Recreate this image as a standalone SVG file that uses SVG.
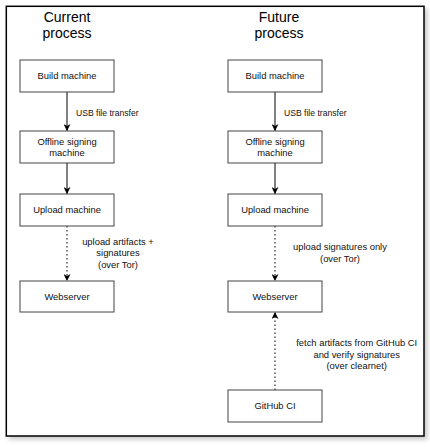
<svg xmlns="http://www.w3.org/2000/svg" width="430" height="447" viewBox="0 0 430 447">
<style>
.node rect{fill:#fff;stroke:#444;stroke-width:1}
.nl{font-family:"Liberation Sans",Arial,sans-serif;font-size:9.4px;fill:#111;text-anchor:middle}
.el{font-family:"Liberation Sans",Arial,sans-serif;font-size:9.4px;fill:#111;text-anchor:middle}
.title{font-family:"Liberation Sans",Arial,sans-serif;font-size:14px;fill:#000;text-anchor:middle}
.solid{stroke:#000;stroke-width:1;fill:none}
.dot{stroke:#000;stroke-width:1;fill:none;stroke-dasharray:1.5 2.5}
</style>
<defs>
<filter id="sh" x="-5%" y="-5%" width="115%" height="115%">
<feGaussianBlur in="SourceAlpha" stdDeviation="2"/>
<feOffset dx="3" dy="3" result="b"/>
<feComponentTransfer><feFuncA type="linear" slope="0.2"/></feComponentTransfer>
<feMerge><feMergeNode/><feMergeNode in="SourceGraphic"/></feMerge>
</filter>
<marker id="arr" viewBox="0 0 10 10" refX="10" refY="5" markerWidth="7" markerHeight="7" markerUnits="userSpaceOnUse" orient="auto">
<path d="M0,0 L10,5 L0,10 L3,5 Z" fill="#000"/>
</marker>
</defs>
<rect id="frame" x="6.3" y="6.3" width="417.7" height="429.7" fill="#fff" stroke="#000" stroke-width="1.5" filter="url(#sh)"/>
<g id="titles">
<text class="title" x="67" y="22">Current</text>
<text class="title" x="67" y="38">process</text>
<text class="title" x="279" y="22">Future</text>
<text class="title" x="279" y="38">process</text>
</g>
<g id="connectors">
<line class="solid" x1="67" y1="92" x2="67" y2="131" marker-end="url(#arr)"/>
<line class="solid" x1="67" y1="163" x2="67" y2="194" marker-end="url(#arr)"/>
<line class="dot" x1="67" y1="226" x2="67" y2="281" marker-end="url(#arr)"/>
<line class="solid" x1="275" y1="92" x2="275" y2="131" marker-end="url(#arr)"/>
<line class="solid" x1="275" y1="163" x2="275" y2="194" marker-end="url(#arr)"/>
<line class="dot" x1="275" y1="226" x2="275" y2="281" marker-end="url(#arr)"/>
<line class="dot" x1="275" y1="390" x2="275" y2="312" marker-end="url(#arr)"/>
<text class="el" x="76" y="116" style="text-anchor:start;font-size:8.6px">USB file transfer</text>
<text class="el" x="284" y="116" style="text-anchor:start;font-size:8.6px">USB file transfer</text>
<text class="el" x="118" y="245">upload artifacts +</text>
<text class="el" x="118" y="256.3">signatures</text>
<text class="el" x="118" y="267.6">(over Tor)</text>
<text class="el" x="340" y="250.3">upload signatures only</text>
<text class="el" x="340" y="261.6">(over Tor)</text>
<text class="el" x="356.7" y="346.3">fetch artifacts from GitHub CI</text>
<text class="el" x="356.7" y="357.6">and verify signatures</text>
<text class="el" x="356.7" y="368.9">(over clearnet)</text>
</g>
<g id="build-current" class="node"><rect x="20" y="60" width="94" height="32"/><text class="nl" x="67" y="79">Build machine</text></g>
<g id="offline-current" class="node"><rect x="20" y="131" width="94" height="32"/><text class="nl" x="67" y="145">Offline signing</text><text class="nl" x="67" y="156.3">machine</text></g>
<g id="upload-current" class="node"><rect x="20" y="194" width="94" height="32"/><text class="nl" x="67" y="213">Upload machine</text></g>
<g id="web-current" class="node"><rect x="20" y="281" width="94" height="31"/><text class="nl" x="67" y="299.5">Webserver</text></g>
<g id="build-future" class="node"><rect x="228" y="60" width="94" height="32"/><text class="nl" x="275" y="79">Build machine</text></g>
<g id="offline-future" class="node"><rect x="228" y="131" width="94" height="32"/><text class="nl" x="275" y="145">Offline signing</text><text class="nl" x="275" y="156.3">machine</text></g>
<g id="upload-future" class="node"><rect x="228" y="194" width="94" height="32"/><text class="nl" x="275" y="213">Upload machine</text></g>
<g id="web-future" class="node"><rect x="228" y="281" width="94" height="31"/><text class="nl" x="275" y="299.5">Webserver</text></g>
<g id="github" class="node"><rect x="228" y="390" width="94" height="32"/><text class="nl" x="275" y="409">GitHub CI</text></g>
</svg>
